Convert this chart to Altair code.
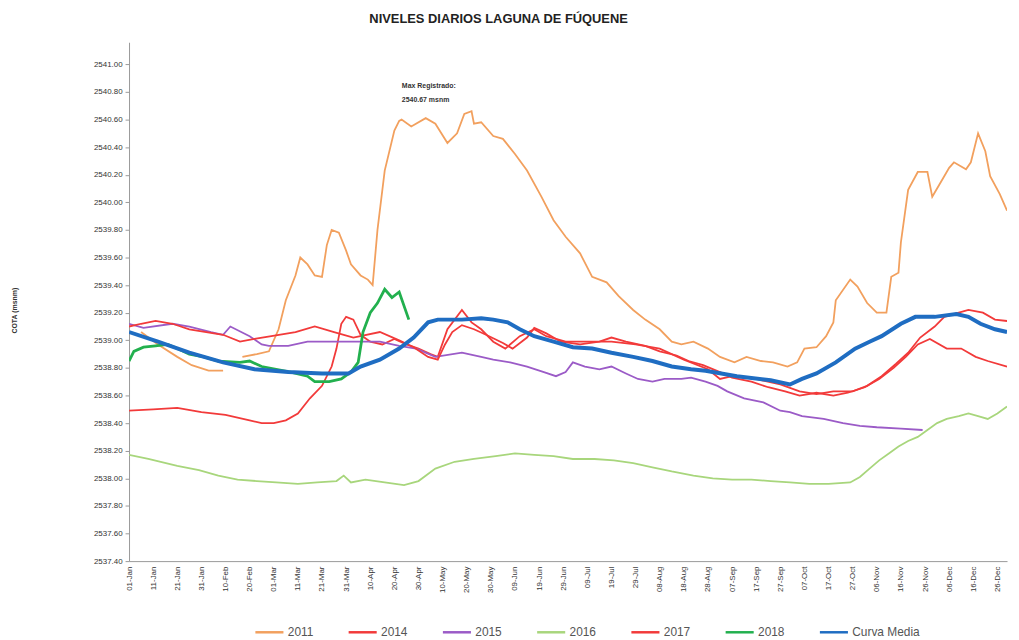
import altair as alt
import pandas as pd

# ---------------- data (day offset from 01-Jan, level in m.s.n.m.) ----------------
BASE_DATE = "2016-01-01"

series_names = ["2011", "2014", "2015", "2016", "2017", "2018", "Curva Media"]
series_colors = ["#F2A05E", "#F23A3A", "#9B5BC7", "#A8D67C", "#F23A3A", "#22B04E", "#1F6DC2"]
thin_series = ["2011", "2014", "2015", "2016", "2017"]

# 2011 (two segments, gap in February)
y2011_a_days = [5, 12, 20, 26, 33, 39]
y2011_a_vals = [2539.06, 2538.97, 2538.88, 2538.82, 2538.78, 2538.78]
y2011_b_days = [47, 53, 58, 62, 65, 69, 71, 74, 77, 80, 82, 84, 87,
                90, 92, 96, 99, 101, 103, 106, 110, 112, 113,
                117, 123, 127, 132, 136, 139, 142, 143, 146, 151,
                155, 160, 165, 171, 176, 181, 187, 192, 198, 203,
                209, 214, 220, 225, 229, 234, 240, 245, 251, 256,
                262, 267, 273, 277, 280, 285, 289, 292, 293, 299,
                302, 306, 310, 314, 316, 319, 320, 323, 327, 331,
                333, 337, 340, 342, 347, 349, 352, 355, 357, 361, 364]
y2011_b_vals = [2538.88, 2538.90, 2538.92, 2539.08, 2539.29, 2539.47, 2539.60, 2539.55, 2539.47, 2539.46, 2539.69, 2539.80, 2539.78,
                2539.65, 2539.55, 2539.47, 2539.44, 2539.40, 2539.80, 2540.23, 2540.52, 2540.59, 2540.60,
                2540.55, 2540.61, 2540.57, 2540.43, 2540.50, 2540.64, 2540.66, 2540.57, 2540.58, 2540.48,
                2540.46, 2540.35, 2540.23, 2540.04, 2539.87, 2539.75, 2539.63, 2539.46, 2539.42, 2539.32,
                2539.22, 2539.15, 2539.08, 2538.99, 2538.97, 2538.99, 2538.94, 2538.88, 2538.84, 2538.88,
                2538.85, 2538.84, 2538.81, 2538.84, 2538.94, 2538.95, 2539.03, 2539.13, 2539.29, 2539.44,
                2539.39, 2539.27, 2539.20, 2539.20, 2539.46, 2539.49, 2539.71, 2540.09, 2540.22, 2540.22,
                2540.04, 2540.16, 2540.25, 2540.29, 2540.24, 2540.29, 2540.50, 2540.37, 2540.19, 2540.06, 2539.94]

y2014_days = [0, 10, 20, 30, 40, 50, 55, 60, 65, 70, 75, 80, 84, 86, 88, 90, 93, 96, 100,
              105, 110, 115, 120, 125, 128, 132, 138, 142, 146, 151, 156, 162, 168, 173,
              181, 190, 200, 210, 220, 230, 240, 245, 250, 260, 270, 278, 285, 292, 300,
              306, 312, 318, 323, 328, 334, 338, 344, 348, 354, 359, 364]
y2014_vals = [2538.49, 2538.50, 2538.51, 2538.48, 2538.46, 2538.42, 2538.40, 2538.40, 2538.42, 2538.47,
              2538.58, 2538.67, 2538.81, 2538.94, 2539.12, 2539.17, 2539.15, 2539.04, 2538.99,
              2538.97, 2539.01, 2538.97, 2538.94, 2538.90, 2538.88, 2539.08, 2539.22, 2539.13, 2539.08,
              2538.99, 2538.94, 2539.03, 2539.08, 2539.03, 2538.99, 2538.99, 2538.99, 2538.97, 2538.94,
              2538.86, 2538.79, 2538.72, 2538.74, 2538.72, 2538.68, 2538.63, 2538.61, 2538.63, 2538.63,
              2538.67, 2538.74, 2538.83, 2538.91, 2539.02, 2539.10, 2539.17, 2539.20, 2539.22, 2539.20,
              2539.15, 2539.14]

y2015_days = [0, 6, 18, 25, 34, 39, 42, 50, 55, 58, 66, 74, 82, 91, 96, 104, 112, 119, 127,
              138, 146, 151, 158, 165, 172, 177, 181, 184, 189, 195, 200, 206, 211, 217, 222,
              229, 233, 239, 244, 248, 255, 263, 270, 274, 279, 288, 296, 303, 310, 320, 329]
y2015_vals = [2539.12, 2539.09, 2539.12, 2539.10, 2539.06, 2539.04, 2539.10, 2539.03, 2538.97, 2538.96,
              2538.96, 2538.99, 2538.99, 2538.99, 2538.99, 2538.99, 2538.96, 2538.94, 2538.88,
              2538.91, 2538.88, 2538.86, 2538.84, 2538.81, 2538.77, 2538.74, 2538.77, 2538.84, 2538.81,
              2538.79, 2538.81, 2538.76, 2538.72, 2538.70, 2538.72, 2538.72, 2538.73, 2538.70, 2538.67,
              2538.63, 2538.58, 2538.55, 2538.49, 2538.48, 2538.45, 2538.43, 2538.40, 2538.38, 2538.37,
              2538.36, 2538.35]

y2016_days = [0, 8, 20, 29, 37, 45, 53, 61, 70, 78, 86, 89, 92, 98, 106, 114, 120, 127, 135,
              143, 152, 160, 168, 176, 184, 193, 201, 209, 217, 225, 234, 242, 250, 258, 266,
              274, 282, 290, 299, 303, 307, 311, 315, 319, 323, 327, 331, 335, 339, 344, 348,
              352, 356, 360, 364]
y2016_vals = [2538.17, 2538.14, 2538.09, 2538.06, 2538.02, 2537.99, 2537.98, 2537.97, 2537.96, 2537.97,
              2537.98, 2538.02, 2537.97, 2537.99, 2537.97, 2537.95, 2537.98, 2538.07, 2538.12,
              2538.14, 2538.16, 2538.18, 2538.17, 2538.16, 2538.14, 2538.14, 2538.13, 2538.11, 2538.08,
              2538.05, 2538.02, 2538.00, 2537.99, 2537.99, 2537.98, 2537.97, 2537.96, 2537.96, 2537.97,
              2538.01, 2538.07, 2538.13, 2538.18, 2538.23, 2538.27, 2538.30, 2538.35, 2538.40, 2538.43,
              2538.45, 2538.47, 2538.45, 2538.43, 2538.47, 2538.52]

y2017_days = [0, 5, 11, 18, 25, 32, 39, 46, 52, 59, 69, 77, 85, 93, 104, 112, 118, 124, 128,
              131, 134, 138, 143, 148, 155, 159, 165, 168, 173, 179, 187, 195, 200, 206, 214,
              220, 227, 232, 238, 245, 250, 258, 265, 272, 278, 285, 292, 298, 305, 311, 317,
              322, 327, 332, 339, 345, 351, 356, 364]
y2017_vals = [2539.10, 2539.12, 2539.14, 2539.12, 2539.08, 2539.06, 2539.04, 2538.99, 2539.01, 2539.03,
              2539.06, 2539.10, 2539.06, 2539.02, 2539.06, 2539.00, 2538.95, 2538.88, 2538.86,
              2538.97, 2539.06, 2539.11, 2539.08, 2539.04, 2538.98, 2538.94, 2539.02, 2539.09, 2539.05,
              2538.99, 2538.97, 2538.99, 2539.02, 2538.99, 2538.96, 2538.92, 2538.89, 2538.85, 2538.82,
              2538.77, 2538.73, 2538.70, 2538.66, 2538.63, 2538.60, 2538.62, 2538.60, 2538.62, 2538.66,
              2538.72, 2538.80, 2538.88, 2538.97, 2539.01, 2538.94, 2538.94, 2538.88, 2538.85, 2538.81]

y2018_days = [0, 2, 6, 11, 16, 20, 25, 31, 37, 46, 50, 55, 61, 67, 74, 77, 83, 88, 92, 95,
              97, 100, 103, 106, 109, 112, 116]
y2018_vals = [2538.85, 2538.92, 2538.95, 2538.96, 2538.97, 2538.94, 2538.90, 2538.88, 2538.85, 2538.84,
              2538.85, 2538.81, 2538.79, 2538.77, 2538.74, 2538.70, 2538.70, 2538.72, 2538.77, 2538.84,
              2539.06, 2539.20, 2539.27, 2539.37, 2539.31, 2539.35, 2539.15]

media_days = [0, 12, 25, 39, 52, 66, 80, 91, 96, 104, 112, 118, 124, 128, 138, 146, 151, 157,
              162, 168, 176, 184, 192, 200, 209, 217, 225, 233, 239, 252, 266, 274, 279, 285,
              293, 301, 307, 312, 320, 326, 334, 343, 348, 353, 359, 364]
media_vals = [2539.06, 2538.99, 2538.91, 2538.84, 2538.79, 2538.77, 2538.76, 2538.76, 2538.81, 2538.86,
              2538.94, 2539.02, 2539.13, 2539.15, 2539.15, 2539.16, 2539.15, 2539.13, 2539.08, 2539.03,
              2538.99, 2538.95, 2538.94, 2538.91, 2538.88, 2538.85, 2538.81, 2538.79, 2538.78, 2538.74,
              2538.71, 2538.68, 2538.72, 2538.76, 2538.84, 2538.94, 2538.99, 2539.03, 2539.12, 2539.17,
              2539.17, 2539.19, 2539.17, 2539.12, 2539.08, 2539.06]

tick_labels = ["01-Jan", "11-Jan", "21-Jan", "31-Jan", "10-Feb", "20-Feb", "01-Mar", "11-Mar",
               "21-Mar", "31-Mar", "10-Apr", "20-Apr", "30-Apr", "10-May", "20-May", "30-May",
               "09-Jun", "19-Jun", "29-Jun", "09-Jul", "19-Jul", "29-Jul", "08-Aug", "18-Aug",
               "28-Aug", "07-Sep", "17-Sep", "27-Sep", "07-Oct", "17-Oct", "27-Oct", "06-Nov",
               "16-Nov", "26-Nov", "06-Dec", "16-Dec", "26-Dec"]
y_ticks = [2537.40, 2537.60, 2537.80, 2538.00, 2538.20, 2538.40, 2538.60, 2538.80, 2539.00,
           2539.20, 2539.40, 2539.60, 2539.80, 2540.00, 2540.20, 2540.40, 2540.60, 2540.80, 2541.00]

# ---------------- build table ----------------
base = pd.Timestamp(BASE_DATE)
rows = []


def add(name, seg, days, vals):
    for d, v in zip(days, vals):
        rows.append({"serie": name, "seg": f"{name}-{seg}",
                     "fecha": (base + pd.Timedelta(days=d)).strftime("%Y-%m-%dT00:00:00Z"),
                     "cota": v})


add("2011", "a", y2011_a_days, y2011_a_vals)
add("2011", "b", y2011_b_days, y2011_b_vals)
add("2014", "a", y2014_days, y2014_vals)
add("2015", "a", y2015_days, y2015_vals)
add("2016", "a", y2016_days, y2016_vals)
add("2017", "a", y2017_days, y2017_vals)
add("2018", "a", y2018_days, y2018_vals)
add("Curva Media", "a", media_days, media_vals)
df = pd.DataFrame(rows)

tick_values = [alt.DateTime(year=2016, month=t.month, date=t.day, utc=True)
               for t in [pd.Timestamp(f"{lab}-2016") for lab in tick_labels]]

FONT = "Liberation Sans"

x_enc = alt.X("fecha:T",
              scale=alt.Scale(type="utc",
                              domain=[alt.DateTime(year=2016, month=1, date=1, utc=True),
                                      alt.DateTime(year=2016, month=12, date=30, utc=True)]),
              axis=alt.Axis(title=None, values=tick_values, format="%d-%b", labelAngle=270,
                            labelFontSize=8, labelColor="#333", labelPadding=5, ticks=False,
                            domainColor="#9a9a9a", grid=False, labelFont=FONT))
y_enc = alt.Y("cota:Q",
              scale=alt.Scale(domain=[2537.40, 2541.16], nice=False, zero=False),
              axis=alt.Axis(title="COTA (msnm)", values=y_ticks, format=".2f", labelFontSize=8,
                            labelColor="#333", tickSize=4, tickColor="#9a9a9a", domainColor="#9a9a9a",
                            grid=False, labelFont=FONT, titleFont=FONT, titleFontSize=7,
                            titleFontWeight="bold", titleColor="#333", titleX=-112, titleY=270,
                            titleAngle=270, labelPadding=3))
c_enc = alt.Color("serie:N", scale=alt.Scale(domain=series_names, range=series_colors),
                  legend=alt.Legend(title=None, orient="none", direction="horizontal",
                                    legendX=126, legendY=579, symbolType="stroke",
                                    symbolSize=800, symbolStrokeWidth=2.5, labelFontSize=12,
                                    labelColor="#555", labelFont=FONT, columnPadding=30,
                                    labelOffset=3, columns=7))

base_chart = alt.Chart(df).encode(x=x_enc, y=y_enc, color=c_enc, detail="seg:N",
                                  order=alt.Order("fecha:T"))

thin = base_chart.transform_filter(
    alt.FieldOneOfPredicate(field="serie", oneOf=thin_series)).mark_line(clip=True, strokeWidth=1.8)
l2018 = base_chart.transform_filter(alt.datum.serie == "2018").mark_line(clip=True, strokeWidth=2.8)
media = base_chart.transform_filter(alt.datum.serie == "Curva Media").mark_line(clip=True, strokeWidth=4)

annot_df = pd.DataFrame({"txt": ["Max Registrado:", "2540.67 msnm"]})
annot1 = alt.Chart(annot_df.iloc[[0]]).mark_text(align="left", baseline="middle", fontSize=7,
                                                 fontWeight="bold", font=FONT, color="#333").encode(
    text="txt:N", x=alt.value(275), y=alt.value(44))
annot2 = alt.Chart(annot_df.iloc[[1]]).mark_text(align="left", baseline="middle", fontSize=7,
                                                 fontWeight="bold", font=FONT, color="#333").encode(
    text="txt:N", x=alt.value(275), y=alt.value(58))

chart = alt.layer(thin, l2018, media, annot1, annot2).properties(
    width=885, height=523,
    autosize=alt.AutoSizeParams(type="none"),
    padding={"left": 122, "top": 32, "right": 4, "bottom": 76},
    title=alt.TitleParams("NIVELES DIARIOS LAGUNA DE FÚQUENE", font=FONT, fontSize=13,
                          fontWeight="bold", color="#222", anchor="middle", dx=-70, offset=16),
).configure_view(stroke=None)

chart.save("out.html", embed_options={"renderer": "svg", "actions": False})
